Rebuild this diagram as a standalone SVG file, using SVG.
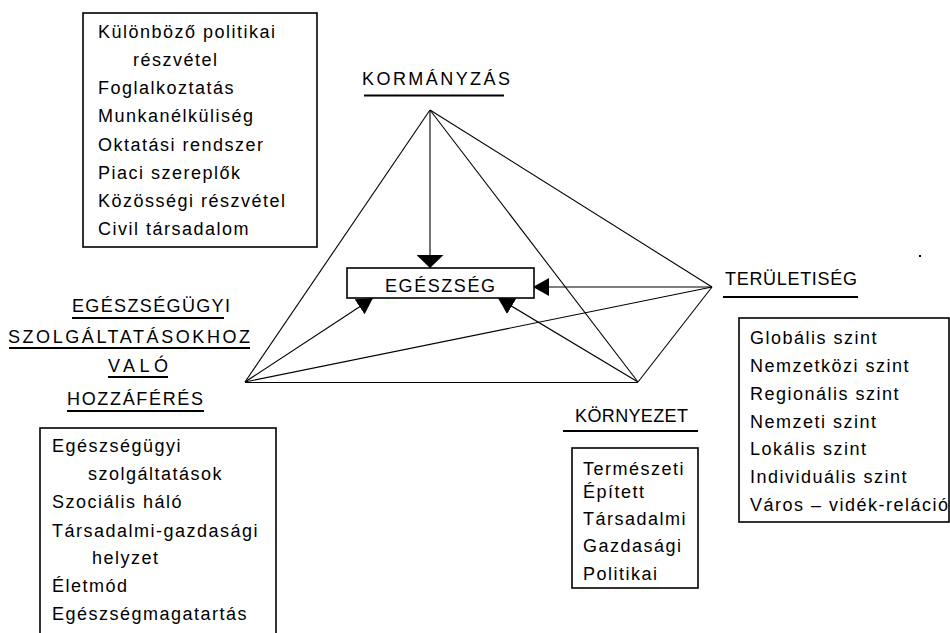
<svg xmlns="http://www.w3.org/2000/svg" width="950" height="633" viewBox="0 0 950 633">
<style>
text{font-family:"Liberation Sans",Arial,sans-serif;font-size:18px;fill:#000}
.li{letter-spacing:1.5px}
.box{fill:#fff;stroke:#000;stroke-width:1.6}
.ul{stroke:#000;stroke-width:2}
.c{stroke:#000;stroke-width:1.1;fill:none}
</style>
<defs>
<marker id="ah" viewBox="0 0 16 18" refX="16" refY="9" markerWidth="16" markerHeight="18" orient="auto" markerUnits="userSpaceOnUse"><path d="M0,0 L16,9 L0,18 z" fill="#000"/></marker>
<marker id="ahw" viewBox="0 0 13 27" refX="13" refY="13.5" markerWidth="13" markerHeight="27" orient="auto" markerUnits="userSpaceOnUse"><path d="M0,0 L13,13.5 L0,27 z" fill="#000"/></marker>
</defs>
<rect width="950" height="633" fill="#fff"/>

<g id="connectors">
<line class="c" x1="430" y1="110" x2="245" y2="382"/>
<line class="c" x1="430" y1="110" x2="430" y2="268" marker-end="url(#ahw)" stroke-width="1.4"/>
<line class="c" x1="430" y1="110" x2="638" y2="382"/>
<line class="c" x1="430" y1="110" x2="712" y2="287"/>
<line class="c" x1="245" y1="382" x2="373" y2="298" marker-end="url(#ah)"/>
<line class="c" x1="245" y1="382" x2="712" y2="287"/>
<line class="c" x1="245" y1="382.5" x2="638" y2="382.5" stroke-width="2"/>
<line class="c" x1="638" y1="382" x2="498" y2="298" marker-end="url(#ah)"/>
<line class="c" x1="638" y1="382" x2="712" y2="287"/>
<line class="c" x1="712" y1="287" x2="533" y2="287" marker-end="url(#ah)" stroke-width="1.4"/>
</g>

<g id="egeszseg">
<rect class="box" x="347" y="268" width="187" height="30" stroke-width="2"/>
<text x="385" y="292" textLength="110" lengthAdjust="spacing">EGÉSZSÉG</text>
</g>

<g id="kormanyzas">
<text x="362" y="85" textLength="148" lengthAdjust="spacing">KORMÁNYZÁS</text>
<line class="ul" x1="364" y1="95.5" x2="504" y2="95.5"/>
<rect class="box" x="83" y="13" width="234" height="234"/>
<text class="li" x="98" y="38">Különböző politikai</text>
<text class="li" x="133" y="66">részvétel</text>
<text class="li" x="98" y="94">Foglalkoztatás</text>
<text class="li" x="98" y="122">Munkanélküliség</text>
<text class="li" x="98" y="151">Oktatási rendszer</text>
<text class="li" x="98" y="179">Piaci szereplők</text>
<text class="li" x="98" y="207">Közösségi részvétel</text>
<text class="li" x="98" y="235">Civil társadalom</text>
</g>

<g id="teruletiseg">
<text x="725" y="285" textLength="132" lengthAdjust="spacing">TERÜLETISÉG</text>
<line class="ul" x1="723" y1="297" x2="858" y2="297"/>
<rect class="box" x="739" y="318" width="210" height="204"/>
<text class="li" x="750" y="344">Globális szint</text>
<text class="li" x="750" y="372">Nemzetközi szint</text>
<text class="li" x="750" y="400">Regionális szint</text>
<text class="li" x="750" y="428">Nemzeti szint</text>
<text class="li" x="750" y="455">Lokális szint</text>
<text class="li" x="750" y="483">Individuális szint</text>
<text class="li" x="750" y="511">Város – vidék-reláció</text>
<rect x="919" y="255" width="2" height="2" fill="#000"/>
</g>

<g id="kornyezet">
<text x="575" y="422" textLength="113" lengthAdjust="spacing">KÖRNYEZET</text>
<line class="ul" x1="563" y1="431" x2="698" y2="431"/>
<rect class="box" x="572" y="448" width="126" height="140"/>
<text class="li" x="583" y="475">Természeti</text>
<text class="li" x="583" y="498">Épített</text>
<text class="li" x="583" y="525">Társadalmi</text>
<text class="li" x="583" y="552">Gazdasági</text>
<text class="li" x="583" y="580">Politikai</text>
</g>

<g id="hozzaferes">
<text x="72" y="312" textLength="158" lengthAdjust="spacing">EGÉSZSÉGÜGYI</text>
<line class="ul" x1="72" y1="318" x2="224" y2="318"/>
<text x="8" y="343" textLength="242" lengthAdjust="spacing">SZOLGÁLTATÁSOKHOZ</text>
<line class="ul" x1="9" y1="348" x2="250" y2="348"/>
<text x="108" y="372" textLength="60" lengthAdjust="spacing">VALÓ</text>
<line class="ul" x1="108" y1="377" x2="168" y2="377"/>
<text x="67" y="405" textLength="136" lengthAdjust="spacing">HOZZÁFÉRÉS</text>
<line class="ul" x1="67" y1="411" x2="204" y2="411"/>
<rect class="box" x="40" y="428" width="236" height="215"/>
<text class="li" x="52" y="452">Egészségügyi</text>
<text class="li" x="88" y="480">szolgáltatások</text>
<text class="li" x="52" y="508">Szociális háló</text>
<text class="li" x="52" y="537">Társadalmi-gazdasági</text>
<text class="li" x="92" y="564">helyzet</text>
<text class="li" x="52" y="592">Életmód</text>
<text class="li" x="52" y="620">Egészségmagatartás</text>
</g>
</svg>
